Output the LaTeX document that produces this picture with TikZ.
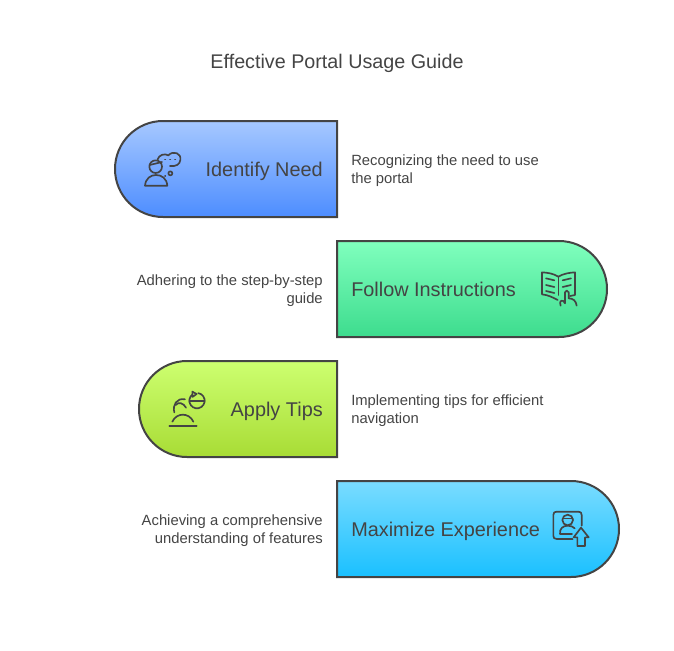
\documentclass[tikz,border=0pt]{standalone}
\usepackage{fontspec}
\setmainfont{Liberation Sans}
\definecolor{inkgray}{HTML}{444444}
\tikzset{
  pill/.style = {draw=inkgray, line width=1.5pt},
  icon/.style = {draw=inkgray, line width=1.25pt, line cap=round, line join=round},
  heading/.style = {text=inkgray, font=\fontsize{14.8pt}{17pt}\selectfont, inner sep=0pt},
  pilltext/.style = {text=inkgray, font=\fontsize{14.9pt}{17pt}\selectfont, inner sep=0pt},
  note/.style = {text=inkgray, font=\fontsize{11.1pt}{13.5pt}\selectfont, inner sep=0pt}
}
\begin{document}
\begin{tikzpicture}[x=.75pt, y=-.75pt]
\useasboundingbox (0,0) rectangle (674,650);
\node[heading, anchor=base] (title) at (337,68) {Effective Portal Usage Guide};
% pills
\draw[pill, top color={rgb,255:red,166;green,200;blue,255}, bottom color={rgb,255:red,77;green,141;blue,255}]
  (337,121) -- (163,121) arc (-90:-270:48) -- (337,217) -- cycle;
\draw[pill, top color={rgb,255:red,128;green,255;blue,190}, bottom color={rgb,255:red,61;green,220;blue,142}]
  (337,241) -- (559,241) arc (-90:90:48) -- (337,337) -- cycle;
\draw[pill, top color={rgb,255:red,205;green,255;blue,112}, bottom color={rgb,255:red,168;green,220;blue,53}]
  (337,361) -- (187,361) arc (-90:-270:48) -- (337,457) -- cycle;
\draw[pill, top color={rgb,255:red,122;green,220;blue,255}, bottom color={rgb,255:red,26;green,192;blue,255}]
  (337,481) -- (571,481) arc (-90:90:48) -- (337,577) -- cycle;
% pill texts
\node[pilltext, anchor=base east] (need) at (323,176) {Identify Need};
\node[pilltext, anchor=base west] (follow) at (351,296) {Follow Instructions};
\node[pilltext, anchor=base east] (tips) at (323,416) {Apply Tips};
\node[pilltext, anchor=base west] (maximize) at (351,536) {Maximize Experience};
% notes
\node[note, anchor=base west, align=left] (noteneed) at (351,183) {Recognizing the need to use\\the portal};
\node[note, anchor=base east, align=right] (notefollow) at (323,303) {Adhering to the step-by-step\\guide};
\node[note, anchor=base west, align=left] (notetips) at (351,423) {Implementing tips for efficient\\navigation};
\node[note, anchor=base east, align=right] (notemax) at (323,543) {Achieving a comprehensive\\understanding of features};
% person with thought cloud
\begin{scope}[shift={(110,115)}, x=.25pt, y=-.25pt]
\draw[icon] (137,155) circle (19);
\draw[icon] (119,150) -- (156,141);
\draw[icon] (105,212) .. controls (107,190) and (122,180) .. (138,180) .. controls (155,180) and (170,190) .. (172,212) -- cycle;
\draw[icon] (143,133) .. controls (146,120) and (165,114) .. (175,121) .. controls (190,105) and (215,115) .. (211,135) .. controls (210,148) and (198,155) .. (180,153);
\draw[icon] (165,133) -- (166,133) (180,133) -- (181,133) (195,133) -- (196,133);
\draw[icon] (181,175) circle (6);
\draw[icon] (165,183) -- (166,183);
\end{scope}
% book with hand
\begin{scope}[shift={(520,235)}, x=.25pt, y=-.25pt]
\draw[icon] (115,125) .. controls (100,116) and (85,113) .. (66,112) -- (66,178) .. controls (85,180) and (100,188) .. (113,195);
\draw[icon] (115,125) .. controls (130,116) and (148,113) .. (165,112) -- (165,180) -- (150,183);
\draw[icon] (115,125) -- (115,180);
\draw[icon] (78,130) -- (103,136) (78,150) -- (103,156) (78,168) -- (103,174);
\draw[icon] (128,136) -- (153,130) (128,156) -- (153,150);
\draw[icon] (122,212) .. controls (118,200) and (122,195) .. (130,198) -- (135,205) -- (135,172) .. controls (136,165) and (145,165) .. (146,172) -- (146,190) .. controls (160,190) and (168,198) .. (170,212);
\end{scope}
% person with refresh pie
\begin{scope}[shift={(135,355)}, x=.25pt, y=-.25pt]
\draw[icon] (103,212) -- (185,212);
\draw[icon] (112,200) .. controls (125,172) and (162,172) .. (175,200);
\draw[icon] (118,172) .. controls (112,150) and (125,128) .. (150,133);
\draw[icon] (122,150) .. controls (130,140) and (145,143) .. (153,158);
\draw[icon] (172.8,118.2) arc (-125:-440:23);
\draw[icon] (163,137) -- (209,137);
\draw[icon] (172,126) -- (172,110) -- (185,117) -- cycle;
\end{scope}
% person card with up arrow
\begin{scope}[shift={(530,475)}, x=.25pt, y=-.25pt]
\draw[icon] (128,192) -- (80,192) .. controls (73,192) and (70,188) .. (70,182) -- (70,120) .. controls (70,113) and (73,110) .. (80,110) -- (145,110) .. controls (152,110) and (155,113) .. (155,120) -- (155,152);
\draw[icon] (113,135) circle (16);
\draw[icon] (98,130) -- (128,130);
\draw[icon] (90,177) .. controls (88,160) and (100,152) .. (113,152) .. controls (122,152) and (130,155) .. (134,160) (90,177) -- (126,177);
\draw[icon] (153,158) -- (176,187) -- (165,187) -- (165,213) -- (142,213) -- (142,187) -- (131,187) -- cycle;
\end{scope}
\end{tikzpicture}
\end{document}
